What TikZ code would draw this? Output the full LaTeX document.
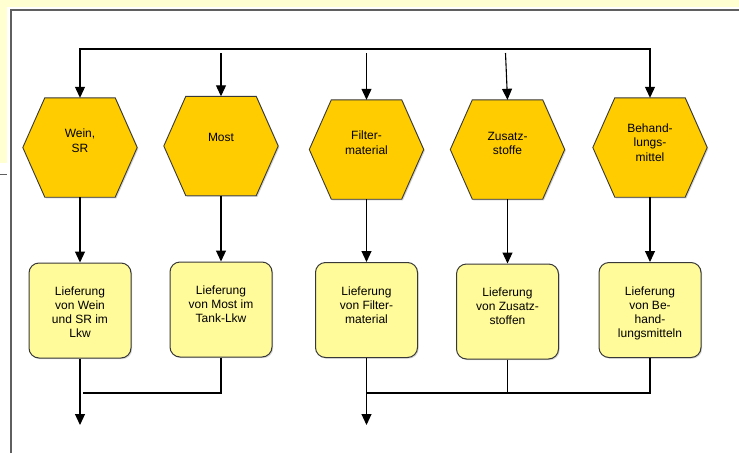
\documentclass[tikz,border=0pt]{standalone}
\usepackage{fontspec}
\setmainfont{Liberation Sans}
\usetikzlibrary{arrows.meta,backgrounds,shadows,calc}
\definecolor{hexfill}{HTML}{FFCC00}
\definecolor{boxfill}{HTML}{FFFA9A}
\definecolor{bgyellow}{HTML}{FFFFD2}
\definecolor{framegray}{HTML}{5F5F5F}
\definecolor{edgegray}{HTML}{383838}
\begin{document}
\begin{tikzpicture}[x=1pt,y=-1pt,
  font=\fontsize{12}{14.5}\selectfont,
  hexnode/.style={minimum width=114pt, minimum height=99pt, inner sep=0pt, draw=none},
  hextext/.style={align=center, inner sep=0pt},
  hexline/.style={draw=edgegray, line width=0.9pt, fill=hexfill, line join=miter,
    drop shadow={shadow xshift=1.2pt, shadow yshift=-1.2pt, opacity=0.35}},
  boxnode/.style={draw=edgegray, line width=1pt, fill=boxfill, rounded corners=10pt,
    minimum width=102pt, minimum height=95pt, inner sep=0pt,
    drop shadow={shadow xshift=1.2pt, shadow yshift=-1.2pt, opacity=0.3}},
  boxtext/.style={align=center, inner sep=0pt, anchor=north, font=\fontsize{12}{14}\selectfont},
  flow/.style={line width=1.1pt, -{Triangle[width=10pt,length=11pt]}},
  biflow/.style={line width=1.1pt, {Triangle[width=10pt,length=11pt]}-{Triangle[width=10pt,length=11pt]}},
  joinline/.style={line width=1.1pt}
]
\useasboundingbox (0,0) rectangle (739,453);
% frame and background
\fill[white] (0,0) rectangle (739,453);
\fill[bgyellow] (0,0) rectangle (739,7);
\fill[bgyellow] (0,0) rectangle (7,163);
\draw[framegray, line width=1.8pt] (11,453) -- (11,10) -- (739,10);
\draw[framegray, line width=1pt] (0,174) -- (7,174);

% hexagons (events)
\node[hexnode] (h1) at (80,147.5) {};
\node[hexnode] (h2) at (221,146) {};
\node[hexnode] (h3) at (366.5,149.5) {};
\node[hexnode] (h4) at (507.5,149.5) {};
\node[hexnode] (h5) at (650,147.5) {};
\foreach \n in {h1,h2,h3,h4,h5}{
  \draw[hexline] (\n.west) -- ([xshift=22pt]\n.north west) -- ([xshift=-22pt]\n.north east)
    -- (\n.east) -- ([xshift=-22pt]\n.south east) -- ([xshift=22pt]\n.south west) -- cycle;
}
\node[hextext] (h1t) at ([yshift=7pt]h1.center) {Wein,\\SR};
\node[hextext] (h2t) at ([yshift=9pt]h2.center) {Most};
\node[hextext] (h3t) at ([yshift=7pt]h3.center) {Filter-\\material};
\node[hextext] (h4t) at ([yshift=6pt]h4.center) {Zusatz-\\stoffe};
\node[hextext] (h5t) at ([yshift=5pt]h5.center) {Behand-\\lungs-\\mittel};

% boxes (functions)
\node[boxnode] (b1) at (80,310.5) {};
\node[boxnode] (b2) at (221,309.5) {};
\node[boxnode] (b3) at (366.5,310) {};
\node[boxnode] (b4) at (507.5,311.5) {};
\node[boxnode] (b5) at (650,310) {};
\node[boxtext] (b1t) at ([yshift=-24.5pt]b1.north) {Lieferung\\von Wein\\und SR im\\Lkw};
\node[boxtext] (b2t) at ([yshift=-24.5pt]b2.north) {Lieferung\\von Most im\\Tank-Lkw};
\node[boxtext] (b3t) at ([yshift=-24.5pt]b3.north) {Lieferung\\von Filter-\\material};
\node[boxtext] (b4t) at ([yshift=-24.5pt]b4.north) {Lieferung\\von Zusatz-\\stoffen};
\node[boxtext] (b5t) at ([yshift=-24.5pt]b5.north) {Lieferung\\von Be-\\hand-\\lungsmitteln};

% top connectors
\coordinate (t1) at (80,49);
\coordinate (t5) at (650,49);
\draw[biflow] (h1.north) -- (t1) -- (t5) -- (h5.north);
\coordinate (s2) at (221,53);
\coordinate (s3) at (366.5,53);
\coordinate (s4) at (505.5,53);
\draw[flow] (s2) -- (h2.north);
\draw[flow] (s3) -- (h3.north);
\draw[flow] (s4) -- (h4.north);

% hexagon to box
\foreach \i in {1,...,5}{
  \draw[flow] (h\i.south) -- (b\i.north);
}

% bottom connectors
\coordinate (e1) at (80,425);
\coordinate (e3) at (366.5,425);
\coordinate (m1) at (83,393);
\coordinate (m3) at (366.5,393);
\draw[flow] (b1.south) -- (e1);
\draw[flow] (b3.south) -- (e3);
\draw[joinline] (b2.south) |- (m1);
\draw[joinline] (b5.south) |- (m3);
\draw[joinline] (b4.south) -- (b4.south |- m3);
\end{tikzpicture}
\end{document}
